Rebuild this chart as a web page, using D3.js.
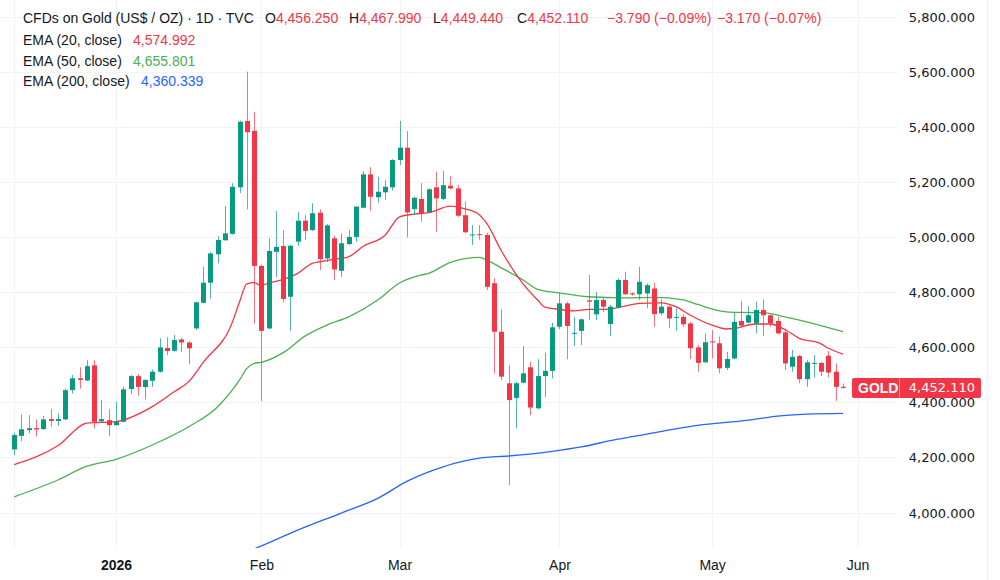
<!DOCTYPE html>
<html><head><meta charset="utf-8">
<script src="https://cdn.jsdelivr.net/npm/d3@7"></script>
<style>
html,body{margin:0;padding:0;background:#fff;}
svg{display:block;font-family:"Liberation Sans","Noto Sans",sans-serif;}
</style></head><body>
<svg id="chart" width="1000" height="580"></svg>
<script>
// ---------- DATA ----------
const firstBar = -14; // bar index of first candle (index 0 = 2 Jan 2026)
const opens  = [4229,4278,4299,4306,4303,4339,4332,4338,4444,4487,4479,4534,4331,4335,
  4317,4329,4448,4495,4455,4478,4511,4597,4587,4628,4617,4668,4761,4834,4937,4988,5011,5180,5421,5385,
  4895,4668,4946,4967,4783,4983,5059,5025,5088,4922,4995,4877,4974,5000,5106,5227,5144,5162,5180,5279,
  5324,5101,5138,5089,5180,5138,5186,5176,5079,5007,5010,5007,4832,4656,4469,4416,4471,4527,4378,4495,4514,4674,
  4759,4650,4659,4770,4719,4771,4684,4744,4844,4795,4792,4795,4813,4723,4747,4707,4710,4686,4599,4545,
  4621,4614,4525,4559,4695,4689,4686,4735,4716,4695,4654,4529,4568,4484,4541,4543,4569,4511,4456.25];
const highs  = [4289,4356,4353,4338,4351,4376,4360,4450,4499,4527,4553,4553,4408,4375,
  4402,4456,4499,4502,4484,4519,4632,4636,4644,4634,4622,4765,4892,4945,5003,5112,5195,5422,5600,5454,
  4898,4995,5094,5025,4971,5091,5079,5122,5100,5047,5004,5013,5025,5112,5239,5253,5218,5206,5282,5421,
  5384,5146,5195,5176,5237,5240,5221,5188,5128,5043,5043,5015,4850,4737,4535,4474,4604,4547,4556,4580,4689,4797,
  4765,4710,4704,4862,4801,4779,4753,4850,4874,4799,4892,4831,4834,4773,4750,4741,4720,4692,4608,4650,
  4662,4638,4583,4725,4767,4749,4765,4773,4719,4710,4668,4590,4572,4553,4571,4547,4586,4541,4467.99];
const lows   = [4208,4259,4287,4275,4299,4311,4314,4335,4432,4450,4477,4305,4327,4278,
  4315,4328,4430,4424,4410,4456,4507,4571,4583,4583,4539,4662,4759,4776,4904,4986,5009,5160,5100,4686,
  4405,4665,4853,4763,4659,4967,4989,5021,4880,4910,4844,4855,4971,4983,5104,5095,5124,5134,5168,5261,
  4999,5079,5055,5086,5019,5134,5173,5073,5013,4971,4990,4807,4505,4480,4099,4305,4469,4353,4374,4418,4487,4665,
  4556,4604,4608,4698,4698,4728,4640,4741,4789,4787,4771,4741,4674,4716,4668,4659,4674,4557,4511,4543,
  4559,4505,4517,4556,4674,4686,4650,4640,4674,4647,4517,4511,4469,4456,4490,4495,4490,4405,4449.44];
const closes = [4281,4302,4306,4301,4338,4332,4339,4444,4487,4481,4531,4329,4339,4317,
  4329,4447,4495,4456,4481,4511,4599,4586,4626,4617,4596,4763,4834,4940,4989,5013,5182,5418,5380,4895,
  4659,4949,4964,4775,4968,5059,5022,5086,4920,5042,4882,4977,5000,5110,5227,5146,5164,5182,5279,5324,
  5089,5142,5086,5173,5140,5188,5176,5077,5017,5009,5008,4819,4656,4493,4408,4469,4505,4381,4495,4514,4672,4759,
  4677,4652,4701,4765,4771,4747,4747,4844,4792,4791,4837,4825,4720,4747,4704,4710,4683,4596,4543,4618,
  4618,4523,4557,4692,4678,4716,4735,4716,4686,4650,4541,4565,4484,4545,4543,4511,4508,4456,4452.11];

// EMA readings (bar index, value)
const ema20Idx = [-14,-8,-4,0,5,8,10,12,16,17,18,19,20,21,23,25,27,28,30,32,34,37,39,41,43,46,48,50,51,53,56,58,59,61,63,65,67,70,72,75,77,79,82,84,85,88,90,92,94,97,98,100];
const ema20Val = [4174,4242,4324,4330,4384,4438,4475,4545,4690,4765,4830,4834,4824,4833,4846,4868,4904,4910,4919,4928,4966,5006,5073,5083,5088,5112,5102,5080,5049,4950,4830,4771,4745,4737,4732,4737,4737,4749,4759,4761,4747,4716,4680,4666,4668,4684,4684,4664,4632,4612,4596,4575];
const ema50Idx = [-14,-8,-4,0,5,10,14,17,18,19,20,23,26,29,32,36,39,42,43,46,50,51,53,56,58,61,65,70,74,78,80,84,86,89,92,95,100];
const ema50Val = [4057,4118,4168,4193,4245,4311,4384,4481,4523,4541,4545,4580,4640,4680,4710,4771,4833,4862,4868,4908,4926,4916,4888,4844,4810,4797,4783,4779,4781,4772,4755,4728,4726,4725,4710,4692,4656];
const ema200Idx = [14,19,25,31,36,40,45,50,54,60,64,69,71,80,87,91,95,100];
const ema200Val = [3820,3868,3936,3998,4051,4113,4166,4197,4205,4222,4238,4266,4275,4316,4335,4350,4357,4360];

const yTicks = [4000,4200,4400,4600,4800,5000,5200,5400,5600,5800];
const xTickIdx = [-14,0,20,39,61,82,102];
const xTickLabels = ["","2026","Feb","Mar","Apr","May","Jun"];

const legendTitle = "CFDs on Gold (US$ / OZ) · 1D · TVC";
const ohlcLabels = ["O","H","L","C"];
const ohlcText = ["4,456.250","4,467.990","4,449.440","4,452.110"];
const changeText = ["−3.790 (−0.09%)","−3.170 (−0.07%)"];
const emaNames = ["EMA (20, close)","EMA (50, close)","EMA (200, close)"];
const emaLast = ["4,574.992","4,655.801","4,360.339"];
const symbolName = "GOLD";
const lastPriceText = "4,452.110";

// ---------- LAYOUT ----------
const W = 1000, H = 580;
const plotR = 898, plotB = 548;
const UP = "#089981", DOWN = "#f23645";
const emaColors = ["#f23645","#4caf50","#2962ff"];
const TXT = "#131722";
const AXISFONT = "'DejaVu Sans','Liberation Sans',sans-serif";

const svg = d3.select("#chart");
const x = d3.scaleLinear().domain([-14,100]).range([14.2,843]);
const y = d3.scaleLinear().domain([4000,5800]).range([512.5,16.5]);

svg.append("defs").append("clipPath").attr("id","plotclip")
  .append("rect").attr("x",0).attr("y",0).attr("width",plotR).attr("height",plotB);

// grid
const grid = svg.append("g");
grid.selectAll("line.h").data(yTicks).join("line")
  .attr("x1",0).attr("x2",plotR)
  .attr("y1",d=>Math.round(y(d))+0.5).attr("y2",d=>Math.round(y(d))+0.5)
  .attr("stroke","#f0f3fa").attr("stroke-width",1);
grid.selectAll("line.v").data(xTickIdx).join("line")
  .attr("x1",d=>Math.round(x(d))+0.5).attr("x2",d=>Math.round(x(d))+0.5)
  .attr("y1",0).attr("y2",plotB)
  .attr("stroke","#f0f3fa").attr("stroke-width",1);

const plot = svg.append("g").attr("clip-path","url(#plotclip)");

// EMA lines
const lineGen = d3.line().x(d=>x(d[0])).y(d=>y(d[1])).curve(d3.curveMonotoneX);
[[ema200Idx,ema200Val],[ema50Idx,ema50Val],[ema20Idx,ema20Val]].forEach((s,k)=>{
  const pts = s[0].map((v,i)=>[v,s[1][i]]);
  plot.append("path").attr("d",lineGen(pts)).attr("fill","none")
    .attr("stroke",emaColors[2-k]).attr("stroke-width",1.3);
});

// candles
const bars = opens.map((o,i)=>({i:firstBar+i,o,h:highs[i],l:lows[i],c:closes[i]}));
const cg = plot.append("g");
cg.selectAll("line").data(bars).join("line")
  .attr("x1",d=>Math.round(x(d.i))+0.5).attr("x2",d=>Math.round(x(d.i))+0.5)
  .attr("y1",d=>y(d.h)).attr("y2",d=>y(d.l))
  .attr("stroke",d=>d.c>=d.o?UP:DOWN).attr("stroke-opacity",0.7).attr("stroke-width",1);
cg.selectAll("rect").data(bars).join("rect")
  .attr("x",d=>Math.round(x(d.i))-2).attr("width",5)
  .attr("y",d=>y(Math.max(d.o,d.c)))
  .attr("height",d=>Math.max(1,Math.abs(y(d.o)-y(d.c))))
  .attr("fill",d=>d.c>=d.o?UP:DOWN);

// y axis
const yAxis = svg.append("g").attr("transform",`translate(${plotR},0)`)
  .call(d3.axisRight(y).tickValues(yTicks).tickFormat(d3.format(",.3f")).tickSize(0));
yAxis.select(".domain").remove();
yAxis.selectAll("text").attr("x",77).attr("text-anchor","end").attr("dy","0.35em")
  .attr("font-size",13).attr("fill",TXT).attr("font-family",AXISFONT);

// x axis
const xAxis = svg.append("g").attr("transform",`translate(0,${plotB})`)
  .call(d3.axisBottom(x).tickValues(xTickIdx).tickFormat((d,i)=>xTickLabels[i]).tickSize(0));
xAxis.select(".domain").remove();
xAxis.selectAll("text").attr("y",12).attr("font-size",14).attr("fill",TXT)
  .attr("font-family",null)
  .attr("font-weight",(d,i)=>xTickLabels[i]==="2026"?"bold":"normal");

// right border
svg.append("line").attr("x1",987.5).attr("x2",987.5).attr("y1",0).attr("y2",H)
  .attr("stroke","#f0f3fa");

// last price label
const lp = y(closes[closes.length-1]);
const lab = svg.append("g");
lab.append("rect").attr("x",852).attr("y",lp-10).attr("width",129).attr("height",20)
  .attr("rx",2).attr("fill",DOWN);
lab.append("line").attr("x1",899.5).attr("x2",899.5).attr("y1",lp-10).attr("y2",lp+10)
  .attr("stroke","#ffffff").attr("stroke-opacity",0.5);
lab.append("text").attr("x",858).attr("y",lp+5).attr("fill","#fff").attr("font-size",14)
  .attr("font-weight","bold").text(symbolName);
lab.append("text").attr("x",975).attr("y",lp+4.5).attr("fill","#fff").attr("font-size",13)
  .attr("font-family",AXISFONT).attr("text-anchor","end").text(lastPriceText);

// legend
const lg = svg.append("g").attr("font-size",14);
const r1 = lg.append("text").attr("x",23).attr("y",23).attr("fill",TXT);
r1.append("tspan").text(legendTitle);
const ohlcX = [265,349,433,517];
ohlcLabels.forEach((l,i)=>{
  const t = lg.append("text").attr("x",ohlcX[i]).attr("y",23);
  t.append("tspan").attr("fill",TXT).text(l);
  t.append("tspan").attr("fill",DOWN).text(ohlcText[i]);
});
lg.append("text").attr("x",607).attr("y",23).attr("fill",DOWN).text(changeText[0]);
lg.append("text").attr("x",717).attr("y",23).attr("fill",DOWN).text(changeText[1]);
const rowY = [45,66,86];
emaNames.forEach((n,i)=>{
  lg.append("text").attr("x",23).attr("y",rowY[i]).attr("fill",TXT).text(n);
  lg.append("text").attr("x",[133,133,141][i]).attr("y",rowY[i]).attr("fill",emaColors[i]).text(emaLast[i]);
});
</script>
</body></html>
